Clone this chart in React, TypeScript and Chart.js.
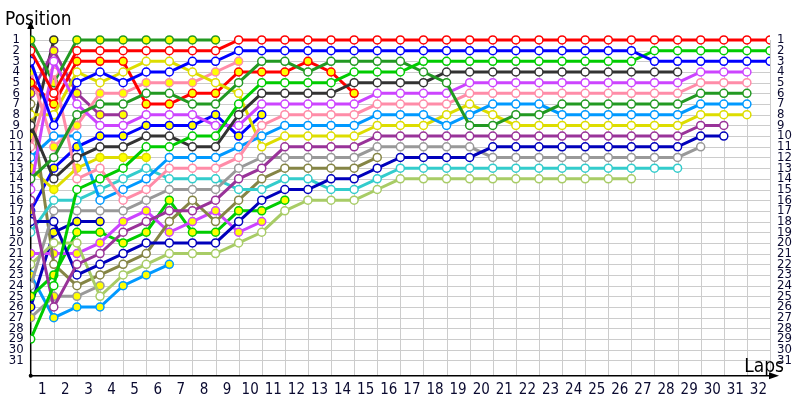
import React, { useEffect, useRef } from "react";
import { Chart, registerables } from "chart.js";

Chart.register(...registerables);

// lap numbers (x) and tick values
const lapNumbers = [0, 1, 2, 3, 4, 5, 6, 7, 8, 9, 10, 11, 12, 13, 14, 15, 16, 17, 18, 19, 20, 21, 22, 23, 24, 25, 26, 27, 28, 29, 30, 31, 32];
const lapTicks = [1, 2, 3, 4, 5, 6, 7, 8, 9, 10, 11, 12, 13, 14, 15, 16, 17, 18, 19, 20, 21, 22, 23, 24, 25, 26, 27, 28, 29, 30, 31, 32];
const positionTicks = [1, 2, 3, 4, 5, 6, 7, 8, 9, 10, 11, 12, 13, 14, 15, 16, 17, 18, 19, 20, 21, 22, 23, 24, 25, 26, 27, 28, 29, 30, 31];

// positions per lap (index = lap number, starting at lap 0 = grid)
const red = [2, 6, 2, 2, 2, 2, 2, 2, 2, 1, 1, 1, 1, 1, 1, 1, 1, 1, 1, 1, 1, 1, 1, 1, 1, 1, 1, 1, 1, 1, 1, 1, 1];
const blue = [3, 9, 5, 4, 5, 4, 4, 3, 3, 2, 2, 2, 2, 2, 2, 2, 2, 2, 2, 2, 2, 2, 2, 2, 2, 2, 2, 3, 3, 3, 3, 3, 3];
const brightGreen = [29, 24, 15, 14, 13, 11, 11, 10, 10, 7, 5, 5, 5, 5, 4, 4, 4, 3, 3, 3, 3, 3, 3, 3, 3, 3, 3, 2, 2, 2, 2, 2, 2];
const darkGreen = [14, 12, 8, 7, 7, 6, 6, 7, 7, 5, 3, 3, 4, 3, 3, 3, 3, 4, 5, 9, 9, 8, 8, 7, 7, 7, 7, 7, 7, 6, 6, 6];
const black = [9, 14, 12, 11, 11, 10, 10, 11, 11, 8, 6, 6, 6, 6, 5, 5, 5, 5, 4, 4, 4, 4, 4, 4, 4, 4, 4, 4, 4];
const violet = [15, 3, 7, 9, 9, 8, 8, 8, 9, 9, 7, 7, 7, 7, 7, 6, 6, 6, 6, 5, 5, 5, 5, 5, 5, 5, 5, 5, 5, 4, 4, 4];
const pink = [11, 4, 14, 13, 16, 15, 13, 13, 13, 12, 9, 8, 8, 8, 8, 7, 7, 7, 7, 6, 6, 6, 6, 6, 6, 6, 6, 6, 6, 5, 5, 5];
const lightBlue = [12, 10, 10, 16, 15, 14, 12, 12, 12, 11, 10, 9, 9, 9, 9, 8, 8, 8, 9, 8, 7, 7, 7, 8, 8, 8, 8, 8, 8, 7, 7, 7];
const yellow = [8, 8, 4, 5, 4, 3, 3, 4, 5, 6, 11, 10, 10, 10, 10, 9, 9, 9, 8, 7, 8, 9, 9, 9, 9, 9, 9, 9, 9, 8, 8, 8];
const plum = [16, 26, 22, 21, 19, 18, 17, 17, 16, 14, 13, 11, 11, 11, 11, 10, 10, 10, 10, 10, 10, 10, 10, 10, 10, 10, 10, 10, 10, 9, 9];
const navy = [18, 18, 23, 22, 21, 20, 20, 20, 20, 18, 16, 15, 15, 14, 14, 13, 12, 12, 12, 12, 11, 11, 11, 11, 11, 11, 11, 11, 11, 10, 10];
const gray = [24, 17, 17, 17, 17, 16, 15, 15, 15, 13, 12, 12, 12, 12, 12, 11, 11, 11, 11, 11, 12, 12, 12, 12, 12, 12, 12, 12, 12, 11];
const teal = [19, 16, 16, 15, 14, 13, 14, 14, 14, 15, 15, 14, 14, 15, 15, 14, 13, 13, 13, 13, 13, 13, 13, 13, 13, 13, 13, 13, 13];
const lightOlive = [22, 20, 20, 25, 23, 22, 21, 21, 21, 20, 19, 17, 16, 16, 16, 15, 14, 14, 14, 14, 14, 14, 14, 14, 14, 14, 14];
const olive = [7, 22, 24, 23, 22, 21, 18, 16, 18, 16, 14, 13, 13, 13, 13, 12];

const darkGreenY = [1, 5, 1, 1, 1, 1, 1, 1, 1];
const redY = [5, 7, 3, 3, 3, 7, 7, 6, 6, 4, 4, 4, 3, 4, 6];
const pinkY = [4, 11, 9, 6, 6, 5, 5, 5, 4, 3];
const plumY = [6, 2, 6, 8, 8];
const blackY = [10, 1];
const yellowY = [13, 15, 13, 12, 12, 12];
const blueY = [17, 13, 11, 10, 10, 9, 9, 9, 8, 10, 8];
const violetY = [21, 21, 21, 20, 18, 17, 19, 18, 17, 19, 18];
const greenY = [25, 23, 19, 19, 20, 19, 16, 19, 19, 17, 17, 16];
const navyY = [26, 19, 18, 18];
const lightBlueY = [23, 27, 26, 26, 24, 23, 22];
const grayY = [27, 25, 25, 24];

const C = {
  red: "#ff0000",
  blue: "#0000ff",
  brightGreen: "#00cc00",
  darkGreen: "#229922",
  black: "#333333",
  violet: "#cc44ff",
  pink: "#ff8ca8",
  lightBlue: "#0099ff",
  yellow: "#dddd00",
  plum: "#993399",
  navy: "#0000bb",
  gray: "#999999",
  teal: "#33cccc",
  lightOlive: "#a8cc66",
  olive: "#858545",
};

const series = [
  { label: "red", data: red, color: C.red, filled: false },
  { label: "blue", data: blue, color: C.blue, filled: false },
  { label: "brightGreen", data: brightGreen, color: C.brightGreen, filled: false },
  { label: "darkGreen", data: darkGreen, color: C.darkGreen, filled: false },
  { label: "black", data: black, color: C.black, filled: false },
  { label: "violet", data: violet, color: C.violet, filled: false },
  { label: "pink", data: pink, color: C.pink, filled: false },
  { label: "lightBlue", data: lightBlue, color: C.lightBlue, filled: false },
  { label: "yellow", data: yellow, color: C.yellow, filled: false },
  { label: "plum", data: plum, color: C.plum, filled: false },
  { label: "navy", data: navy, color: C.navy, filled: false },
  { label: "gray", data: gray, color: C.gray, filled: false },
  { label: "teal", data: teal, color: C.teal, filled: false },
  { label: "lightOlive", data: lightOlive, color: C.lightOlive, filled: false },
  { label: "olive", data: olive, color: C.olive, filled: false },
  { label: "darkGreenY", data: darkGreenY, color: C.darkGreen, filled: true },
  { label: "redY", data: redY, color: C.red, filled: true },
  { label: "pinkY", data: pinkY, color: C.pink, filled: true },
  { label: "plumY", data: plumY, color: C.plum, filled: true },
  { label: "blackY", data: blackY, color: C.black, filled: true },
  { label: "yellowY", data: yellowY, color: C.yellow, filled: true },
  { label: "blueY", data: blueY, color: C.blue, filled: true },
  { label: "violetY", data: violetY, color: C.violet, filled: true },
  { label: "greenY", data: greenY, color: C.brightGreen, filled: true },
  { label: "navyY", data: navyY, color: C.navy, filled: true },
  { label: "lightBlueY", data: lightBlueY, color: C.lightBlue, filled: true },
  { label: "grayY", data: grayY, color: C.gray, filled: true },
];

const FONT = "'DejaVu Sans Condensed', 'DejaVu Sans', sans-serif";
const TICK_COLOR = "#0a0a30";

const lapChartDecor = {
  id: "lapChartDecor",
  beforeDatasetsDraw(chart: any) {
    const { ctx, chartArea, scales } = chart;
    const x = scales.x;
    const y = scales.y;
    const x0 = x.getPixelForValue(0);
    const x1 = x.getPixelForValue(32);
    const yTop = y.getPixelForValue(1);
    const yBot = chartArea.bottom;
    ctx.save();
    ctx.strokeStyle = "#cccccc";
    ctx.lineWidth = 1;
    ctx.beginPath();
    for (const p of positionTicks) {
      const py = Math.round(y.getPixelForValue(p)) + 0.5;
      ctx.moveTo(x0, py);
      ctx.lineTo(x1, py);
    }
    for (const l of lapTicks) {
      const px = Math.round(x.getPixelForValue(l)) + 0.5;
      ctx.moveTo(px, yTop);
      ctx.lineTo(px, yBot);
    }
    ctx.stroke();

    ctx.strokeStyle = "#000000";
    ctx.fillStyle = "#000000";
    ctx.lineWidth = 1.5;
    ctx.beginPath();
    ctx.moveTo(x0, yBot);
    ctx.lineTo(x0, chartArea.top);
    ctx.moveTo(x0, yBot);
    ctx.lineTo(x1 + 4, yBot);
    ctx.stroke();
    ctx.beginPath();
    ctx.moveTo(x0, chartArea.top - 4);
    ctx.lineTo(x0 - 3.5, chartArea.top + 4);
    ctx.lineTo(x0 + 3.5, chartArea.top + 4);
    ctx.closePath();
    ctx.fill();
    ctx.beginPath();
    ctx.moveTo(x1 + 9, yBot);
    ctx.lineTo(x1 - 1, yBot - 3.5);
    ctx.lineTo(x1 - 1, yBot + 3.5);
    ctx.closePath();
    ctx.fill();
    ctx.beginPath();
    ctx.arc(x0, yBot, 2, 0, Math.PI * 2);
    ctx.fill();
    ctx.restore();
  },
  afterDraw(chart: any) {
    const { ctx } = chart;
    ctx.save();
    ctx.fillStyle = "#000000";
    ctx.font = `19px ${FONT}`;
    ctx.textBaseline = "alphabetic";
    ctx.textAlign = "left";
    ctx.fillText("Position", 5, 25);
    ctx.textAlign = "right";
    ctx.fillText("Laps", 784, 372);
    ctx.restore();
  },
};

export default function App() {
  const canvasRef = useRef<HTMLCanvasElement | null>(null);

  useEffect(() => {
    const canvas = canvasRef.current;
    if (!canvas) return;
    const datasets = series.map((s) => ({
      label: s.label,
      data: s.data
        .map((v, i) => (v == null ? null : { x: lapNumbers[i], y: v }))
        .filter((p) => p !== null),
      borderColor: s.color,
      backgroundColor: s.color,
      borderWidth: 3,
      pointRadius: 4,
      pointHoverRadius: 4,
      pointBorderWidth: 1.5,
      pointBorderColor: s.color,
      pointBackgroundColor: s.filled ? "#ffff00" : "#ffffff",
      tension: 0,
      fill: false,
    }));

    const yCommon = {
      type: "linear" as const,
      reverse: true,
      min: -0.4,
      max: 32.43,
      grid: { display: false, drawTicks: false },
      border: { display: false },
      afterBuildTicks: (scale: any) => {
        scale.ticks = positionTicks.map((v) => ({ value: v }));
      },
    };

    const chart = new Chart(canvas, {
      type: "line",
      data: { datasets },
      plugins: [lapChartDecor],
      options: {
        animation: false,
        responsive: true,
        maintainAspectRatio: false,
        layout: { padding: { top: 25, left: 0, right: 0, bottom: 0 } },
        plugins: {
          legend: { display: false },
          tooltip: { enabled: false },
          title: { display: false },
        },
        scales: {
          x: {
            type: "linear",
            min: 0,
            max: 32,
            position: "bottom",
            grid: { display: false, drawTicks: false },
            border: { display: false },
            afterBuildTicks: (scale: any) => {
              scale.ticks = lapTicks.map((v) => ({ value: v }));
            },
            afterFit: (scale: any) => {
              scale.height = 24.3;
            },
            ticks: {
              autoSkip: false,
              maxRotation: 0,
              padding: 5,
              labelOffset: -11.55,
              color: TICK_COLOR,
              font: { family: FONT, size: 15 },
            },
          },
          y: {
            ...yCommon,
            position: "left",
            afterFit: (scale: any) => {
              scale.width = 30.7;
            },
            ticks: {
              autoSkip: false,
              padding: 7,
              crossAlign: "center",
              color: TICK_COLOR,
              font: { family: FONT, size: 13 },
            },
          },
          y2: {
            ...yCommon,
            position: "right",
            afterFit: (scale: any) => {
              scale.width = 30;
            },
            ticks: {
              autoSkip: false,
              padding: 7,
              crossAlign: "near",
              color: TICK_COLOR,
              font: { family: FONT, size: 13 },
            },
          },
        },
      },
    });
    return () => chart.destroy();
  }, []);

  return (
    <div style={{ position: "fixed", left: 0, top: 0, width: 800, height: 400, background: "#ffffff" }}>
      <canvas ref={canvasRef} />
    </div>
  );
}
